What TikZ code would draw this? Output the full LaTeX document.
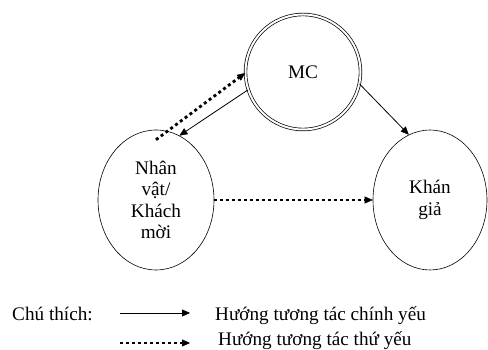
\documentclass[tikz,border=0pt]{standalone}
\usepackage{fontspec}
\setmainfont{Liberation Serif}
\usetikzlibrary{arrows.meta,shapes.geometric}
\begin{document}
\begin{tikzpicture}[x=1pt,y=1pt,
  every node/.style={font=\fontsize{19.2}{21.5}\selectfont},
  tipp/.style={-{Triangle[length=8pt,width=7pt,line width=0.4pt]}},
  mainarrow/.style={tipp, line width=0.8pt},
  subarrow/.style={tipp, line width=2.8pt, dash pattern=on 3pt off 3pt},
  bubble/.style={draw, ellipse, line width=0.6pt, inner sep=0pt, align=center}]
\useasboundingbox (0,0) rectangle (488,350);
\node[circle, draw, double, double distance=2pt, line width=0.7pt,
      minimum size=115pt, inner sep=0pt] (mc) at (303,278) {MC};
\node[bubble, minimum width=116pt, minimum height=140pt] (nv) at (156,150)
  {Nhân\\vật/\\Khách\\mời};
\node[bubble, minimum width=114pt, minimum height=140pt] (kg) at (430,150)
  {Khán\\giả};
\draw[mainarrow] (mc.198) -- (nv.70);
\draw[subarrow] ([yshift=-10pt]nv.north) -- (mc.181);
\draw[mainarrow] (mc.-12) -- (kg.108);
\draw[subarrow] (nv.east) -- (kg.west);
% legend
\node[anchor=base west, inner sep=0pt] (lg) at (12,29) {Chú thích:};
\coordinate (a1) at (120,37);
\coordinate (b1) at (190,37);
\coordinate (a2) at (120,7);
\coordinate (b2) at (190,7);
\draw[mainarrow] (a1) -- (b1);
\draw[subarrow] (a2) -- (b2);
\node[anchor=base west, inner sep=0pt] (t1) at (215,29) {Hướng tương tác chính yếu};
\node[anchor=base west, inner sep=0pt] (t2) at (218,4.5) {Hướng tương tác thứ yếu};
\end{tikzpicture}
\end{document}
